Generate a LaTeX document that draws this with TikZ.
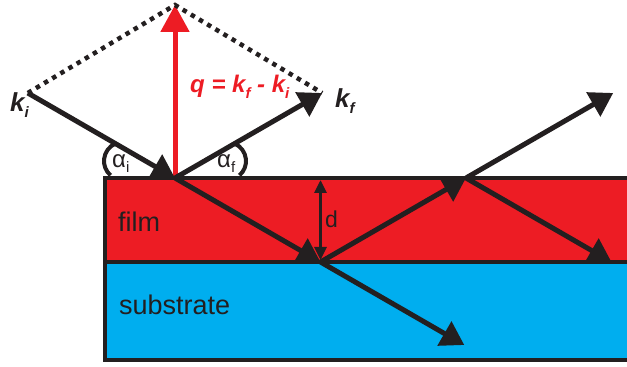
\documentclass[tikz,border=0pt]{standalone}
\usepackage{fontspec}
\setmainfont{Liberation Sans}
\usetikzlibrary{arrows.meta}
\definecolor{filmred}{RGB}{237,28,36}
\definecolor{subblue}{RGB}{0,174,239}
\definecolor{ink}{RGB}{35,31,32}
\newcommand{\lowsub}[2][6pt]{\raisebox{-#1}{\fontsize{15}{15}\selectfont #2}}
\tikzset{
  ray/.style={line width=5pt, draw=ink, -{Triangle[length=23pt,width=27pt]}},
  border/.style={line width=4.5pt, draw=ink},
  anglearc/.style={line width=4pt, draw=ink},
  label/.style={anchor=base west, inner sep=0pt, text=ink},
}
\begin{document}
\begin{tikzpicture}[x=1pt,y=1pt]
	\useasboundingbox (0,0) rectangle (627,367);
	% Points
	\coordinate (P) at (175,189);
	\coordinate (B) at (320.5,105);
	\coordinate (C) at (466,189);
	\coordinate (D) at (611.5,105);
	\coordinate (ki) at (27.8,274);
	\coordinate (kf) at (322.2,274);
	\coordinate (apex) at (175,362);
	\coordinate (out) at (613.2,274);
	\coordinate (Bs) at (464.3,22);
	% Layers
	\fill[filmred] (105,105) rectangle (627,189);
	\fill[subblue] (105,7) rectangle (627,105);
	% Scattering vector
	\draw[line width=5pt, filmred, -{Triangle[length=27pt,width=28pt]}] (P) -- (apex);
	% Borders
	\draw[border] (627,189) -- (105,189) -- (105,7) -- (627,7);
	\draw[border] (105,105) -- (627,105);
	% Dotted box
	\draw[ink, line width=4.5pt, dash pattern=on 4.5pt off 5pt] (ki) -- (apex) -- (kf);
	% Rays
	\foreach \a/\b in {ki/P,P/kf,P/B,B/C,B/Bs,C/out,C/D} {
			\draw[ray] (\a) -- (\b);
		}
	% Angles
	\draw[anglearc] (123,206) ++(114:19) arc[start angle=114, end angle=229, radius=19];
	\draw[anglearc] (227,206) ++(66:19) arc[start angle=66, end angle=-49, radius=19];
	% Thickness
	\draw[line width=3pt, ink, shorten <=2pt, shorten >=2pt,
		{Triangle[length=13pt,width=12pt]}-{Triangle[length=13pt,width=12pt]}] (B |- P) -- (B);
	% Labels
	\node[label, font=\fontsize{27}{30}\selectfont] (film) at (118,135) {film};
	\node[label, font=\fontsize{27}{30}\selectfont] (substrate) at (119,52) {substrate};
	\node[label, font=\fontsize{23}{26}\selectfont] (d) at (325,139) {d};
	\node[label, font=\fontsize{24}{26}\selectfont] (alphai) at (112,199) {α\lowsub[5pt]{i}};
	\node[label, font=\fontsize{24}{26}\selectfont] (alphaf) at (217,199) {α\lowsub[5pt]{f}};
	\node[label, font=\fontsize{26}{28}\selectfont\bfseries\itshape] (kilabel) at (10,255) {k\lowsub{i}};
	\node[label, font=\fontsize{26}{28}\selectfont\bfseries\itshape] (kflabel) at (335,259) {k\lowsub{f}};
	\node[label, text=filmred, font=\fontsize{24}{26}\selectfont\bfseries\itshape] (qlabel) at (190,274) {q = k\lowsub{f} - k\lowsub{i}};
\end{tikzpicture}
\end{document}
